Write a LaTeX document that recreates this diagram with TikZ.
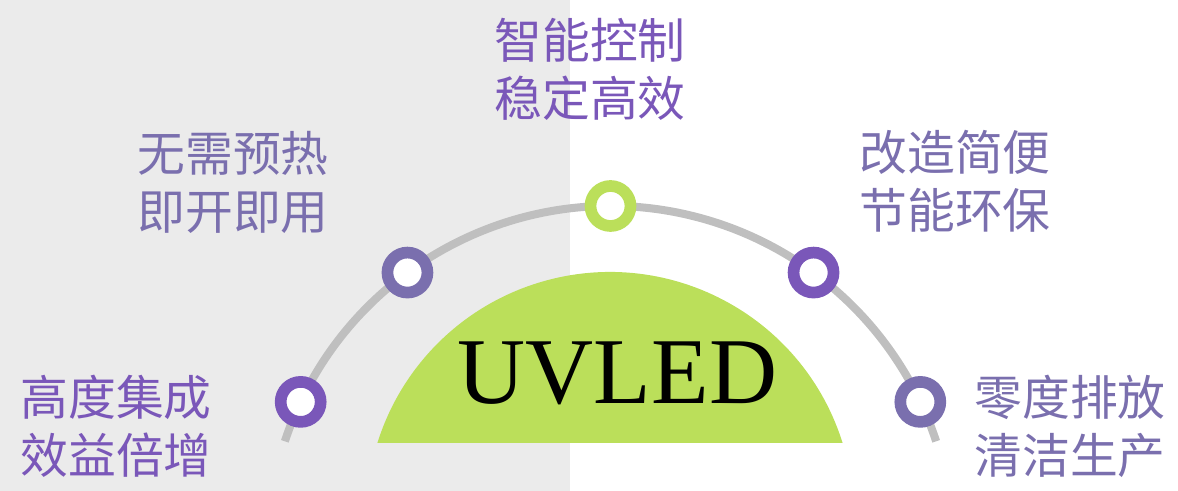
\documentclass[tikz,border=0pt]{standalone}
\usepackage{fontspec}
\setmainfont{Liberation Serif}
\newfontfamily\cjk{Noto Sans CJK SC}
\usetikzlibrary{calc}

\definecolor{bggray}{HTML}{EBEBEB}
\definecolor{arcgray}{HTML}{BFBFBF}
\definecolor{leafgreen}{HTML}{BBDF5A}
\definecolor{deeppurple}{HTML}{7A57B9}
\definecolor{softpurple}{HTML}{7A6FAE}

\begin{document}
\begin{tikzpicture}[x=0.025cm, y=0.025cm,
  ring/.style = {shape=circle, draw=#1, fill=white,
    line width=8.3pt, minimum size=1cm, inner sep=0pt},
  feat/.style = {align=center, text=#1, inner sep=0pt,
    font=\cjk\fontsize{34}{41.3}\selectfont}]
  \useasboundingbox (0,0) rectangle (1178,491);
  \fill[bggray] (0,0) rectangle (570,491);
  % arc and dome
  \coordinate (arcc) at (610.5,-58);
  \draw[arcgray, line width=5.7pt] ($(arcc)+(161.7:343)$)
    arc[start angle=161.7, end angle=18.3, radius=343];
  \fill[leafgreen] (610,-24.7) ++(17.4:243.7)
    arc[start angle=17.4, end angle=162.6, radius=243.7] -- cycle;
  \node[font=\fontsize{67}{67}\selectfont, anchor=base, inner sep=0pt] (uvled) at (617.5,87) {UVLED};
  % rings on the arc
  \node[ring=deeppurple] (p1) at ($(arcc)+(154.6:343)$) {};
  \node[ring=softpurple] (p2) at ($(arcc)+(126.3:343)$) {};
  \node[ring=leafgreen]  (p3) at ($(arcc)+(90:343)$) {};
  \node[ring=deeppurple] (p4) at ($(arcc)+(53.7:343)$) {};
  \node[ring=softpurple] (p5) at ($(arcc)+(25.4:343)$) {};
  % texts
  \node[feat=deeppurple] (t3) at (590,422) {智能控制\\稳定高效};
  \node[feat=softpurple] (t2) at (233,309) {无需预热\\即开即用};
  \node[feat=softpurple] (t4) at (955,310) {改造简便\\节能环保};
  \node[feat=deeppurple] (t1) at (116,65) {高度集成\\效益倍增};
  \node[feat=softpurple] (t5) at (1070,65) {零度排放\\清洁生产};
\end{tikzpicture}
\end{document}
